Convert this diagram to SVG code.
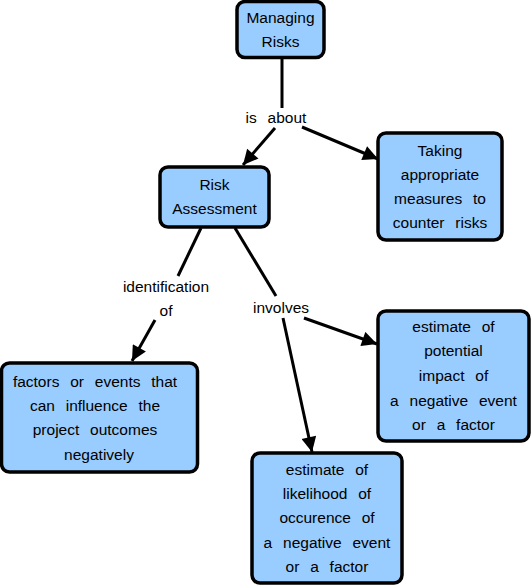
<svg xmlns="http://www.w3.org/2000/svg" width="531" height="585" viewBox="0 0 531 585">
<style>
.box{fill:#99ccff;stroke:#000;stroke-width:3.5}
.t{font-family:"Liberation Sans",Arial,sans-serif;font-size:15.5px;text-anchor:middle;fill:#000;word-spacing:6.5px}
.c{stroke:#000;stroke-width:3;fill:none}
</style>
<defs>
<marker id="ah" viewBox="0 0 10 10" refX="10" refY="5" markerWidth="5.5" markerHeight="5" orient="auto" markerUnits="strokeWidth">
<path d="M0,0 L10,5 L0,10 z" fill="#000"/>
</marker>
</defs>
<rect width="531" height="585" fill="#fff"/>
<g id="connectors">
<line class="c" x1="282" y1="58" x2="282" y2="108"/>
<line class="c" x1="275" y1="128" x2="243" y2="165" marker-end="url(#ah)"/>
<line class="c" x1="302" y1="127" x2="378" y2="159" marker-end="url(#ah)"/>
<line class="c" x1="201" y1="228" x2="178" y2="276"/>
<line class="c" x1="155" y1="320" x2="132" y2="361" marker-end="url(#ah)"/>
<line class="c" x1="235" y1="228" x2="276" y2="296"/>
<line class="c" x1="304" y1="318" x2="377" y2="344" marker-end="url(#ah)"/>
<line class="c" x1="283" y1="318" x2="312" y2="452" marker-end="url(#ah)"/>
<text class="t" x="276" y="123">is about</text>
<text class="t" x="166" y="292">identification</text>
<text class="t" x="166" y="316">of</text>
<text class="t" x="281" y="313">involves</text>
</g>
<g id="managing">
<rect class="box" x="237" y="1.5" width="87" height="56" rx="8"/>
<text class="t" x="280.5" y="23">Managing</text>
<text class="t" x="280.5" y="47">Risks</text>
</g>
<g id="taking">
<rect class="box" x="378" y="133" width="124" height="107" rx="8"/>
<text class="t" x="440" y="156">Taking</text>
<text class="t" x="440" y="180">appropriate</text>
<text class="t" x="440" y="204">measures to</text>
<text class="t" x="440" y="228">counter risks</text>
</g>
<g id="risk">
<rect class="box" x="160" y="167" width="109" height="60" rx="8"/>
<text class="t" x="214.5" y="190">Risk</text>
<text class="t" x="214.5" y="214">Assessment</text>
</g>
<g id="factors">
<rect class="box" x="1.5" y="363" width="196" height="109" rx="8"/>
<text class="t" x="95" y="387">factors or events that</text>
<text class="t" x="95" y="411">can influence the</text>
<text class="t" x="95" y="435">project outcomes</text>
<text class="t" x="99" y="460">negatively</text>
</g>
<g id="impact">
<rect class="box" x="378" y="311" width="151" height="130" rx="8"/>
<text class="t" x="453.5" y="332">estimate of</text>
<text class="t" x="453.5" y="356">potential</text>
<text class="t" x="453.5" y="381">impact of</text>
<text class="t" x="453.5" y="406">a negative event</text>
<text class="t" x="453.5" y="430">or a factor</text>
</g>
<g id="likelihood">
<rect class="box" x="252" y="453" width="150" height="130" rx="8"/>
<text class="t" x="327" y="475">estimate of</text>
<text class="t" x="327" y="499">likelihood of</text>
<text class="t" x="327" y="523">occurence of</text>
<text class="t" x="327" y="548">a negative event</text>
<text class="t" x="327" y="572">or a factor</text>
</g>
</svg>
